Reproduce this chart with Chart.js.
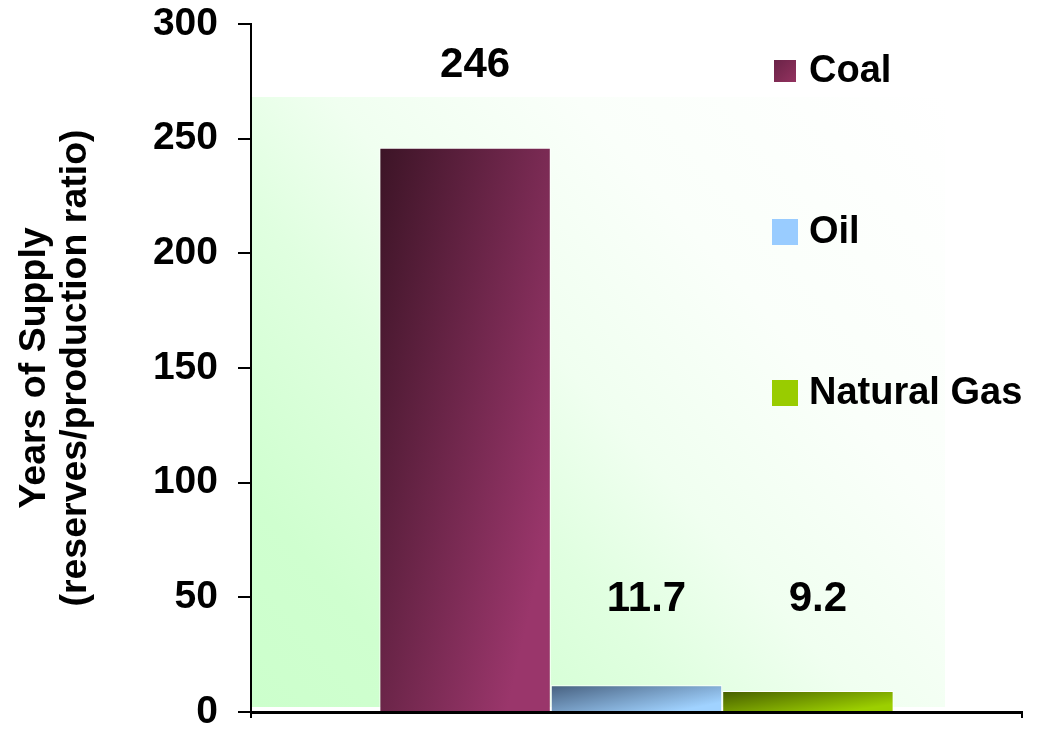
<!DOCTYPE html>
<html>
<head>
<meta charset="utf-8">
<title>Years of Supply</title>
<script src="https://cdn.jsdelivr.net/npm/chart.js@4.4.1/dist/chart.umd.min.js"></script>
<style>
    html, body { margin: 0; padding: 0; background: #fff; }
    #wrap { width: 1047px; height: 731px; }
</style>
</head>
<body>
<div id="wrap"><canvas id="supplyChart" width="1047" height="731"></canvas></div>
<script>
// Chart data
const fuels = ['Coal', 'Oil', 'Natural Gas'];
const yearsOfSupply = [246, 11.7, 9.2];
const valueLabels = ['246', '11.7', '9.2'];
const yTicks = [0, 50, 100, 150, 200, 250, 300];
const axisTitle = ['Years of Supply', '(reserves/production ratio)'];

// Styles
const FONT = "'Liberation Sans', Arial, Helvetica, sans-serif";
const darkColors = ['#3c1426', '#465f7e', '#455c00'];
const lightColors = ['#9a366b', '#a0d2ff', '#9ccf00'];
const legendColors = ['#7e2a56', '#99ccff', '#99cc00'];
const legendSizes = [22, 26, 26];

// Gradient fill for each bar, built from the bar's own box
// (dark top-left corner, light bottom-right corner)
function barFill(context) {
    const i = context.datasetIndex;
    const bar = context.chart.getDatasetMeta(i).data[context.dataIndex];
    if (!bar || bar.x === undefined || isNaN(bar.x)) return lightColors[i];
    const { x, y, base, width } = bar.getProps(['x', 'y', 'base', 'width'], true);
    const h = Math.max(Math.abs(base - y), 1);
    const left = x - width / 2;
    const ux = 0.67 / width;
    const uy = 0.5 / h;
    const len2 = ux * ux + uy * uy;
    const g = context.chart.ctx.createLinearGradient(left, y, left + ux / len2, y + uy / len2);
    g.addColorStop(0, darkColors[i]);
    g.addColorStop(1, lightColors[i]);
    return g;
}

// Pale green back wall behind the bars
const backWall = {
    id: 'backWall',
    beforeDraw(chart) {
        const { ctx, chartArea: a } = chart;
        ctx.save();
        ctx.fillStyle = '#ffffff';
        ctx.fillRect(0, 0, chart.width, chart.height);
        const left = a.left + 1;
        const right = a.right - 77;
        const top = a.top + 73;
        const bottom = a.bottom - 5;
        const g = ctx.createLinearGradient(left, bottom, right, top);
        g.addColorStop(0, '#ccffcc');
        g.addColorStop(0.15, '#cfffcf');
        g.addColorStop(0.36, '#e0ffe0');
        g.addColorStop(0.5, '#f0fff0');
        g.addColorStop(0.7, '#fafffa');
        g.addColorStop(1, '#ffffff');
        ctx.fillStyle = g;
        ctx.fillRect(left, top, right - left, bottom - top);
        ctx.restore();
    }
};

// Value labels above the bars
const valueTags = {
    id: 'valueTags',
    afterDatasetsDraw(chart) {
        const { ctx } = chart;
        const yScale = chart.scales.y;
        ctx.save();
        ctx.font = 'bold 42px ' + FONT;
        ctx.textAlign = 'center';
        ctx.textBaseline = 'middle';
        ctx.fillStyle = '#000';
        chart.data.datasets.forEach((ds, i) => {
            const bar = chart.getDatasetMeta(i).data[0];
            const y = Math.min(bar.y - 82, yScale.getPixelForValue(49));
            ctx.fillText(valueLabels[i], bar.x + 10, y);
        });
        ctx.restore();
    }
};

// Legend on the right, spread down the plot
const sideLegend = {
    id: 'sideLegend',
    afterDraw(chart) {
        const { ctx } = chart;
        ctx.save();
        ctx.font = 'bold 38px ' + FONT;
        ctx.textBaseline = 'middle';
        ctx.textAlign = 'left';
        chart.data.datasets.forEach((ds, i) => {
            const cy = 72 + i * 161;
            const s = legendSizes[i];
            const sx = 785 - s / 2;
            const sy = cy - s / 2 - 1;
            if (i === 0) {
                const g = ctx.createLinearGradient(sx, sy, sx + s, sy + s);
                g.addColorStop(0, '#6a2347');
                g.addColorStop(1, '#93325f');
                ctx.fillStyle = g;
            } else {
                ctx.fillStyle = legendColors[i];
            }
            ctx.fillRect(sx, sy, s, s);
            ctx.fillStyle = '#000';
            ctx.fillText(ds.label, 809, cy);
        });
        ctx.restore();
    }
};

const ctx = document.getElementById('supplyChart').getContext('2d');
const chart = new Chart(ctx, {
    type: 'bar',
    data: {
        labels: [''],
        datasets: fuels.map((name, i) => ({
            label: name,
            data: [yearsOfSupply[i]],
            backgroundColor: barFill,
            borderColor: '#ffffff',
            borderWidth: 1,
            categoryPercentage: 0.667,
            barPercentage: 1
        }))
    },
    options: {
        responsive: false,
        animation: false,
        layout: {
            padding: { top: 24, right: 25, bottom: 0, left: 0 }
        },
        plugins: {
            legend: { display: false },
            tooltip: { enabled: false }
        },
        scales: {
            x: {
                ticks: { display: false },
                grid: {
                    drawOnChartArea: false,
                    tickLength: 6,
                    color: '#000',
                    lineWidth: 2
                },
                border: { color: '#000', width: 3 },
                afterFit: scale => {
                    scale.height = 19;
                    scale.paddingLeft = 0;
                    scale.paddingRight = 0;
                }
            },
            y: {
                min: 0,
                max: 300,
                afterBuildTicks: scale => {
                    scale.ticks = yTicks.map(v => ({ value: v }));
                },
                ticks: {
                    color: '#000',
                    padding: 20,
                    font: { family: FONT, size: 39, weight: 'bold', lineHeight: 1 }
                },
                grid: {
                    drawOnChartArea: false,
                    tickLength: 13,
                    color: '#000',
                    lineWidth: 2
                },
                border: { color: '#000', width: 2 },
                title: {
                    display: true,
                    text: axisTitle,
                    color: '#000',
                    padding: { top: 14, bottom: 0 },
                    font: { family: FONT, size: 37.5, weight: 'bold', lineHeight: 1.1 }
                },
                afterFit: scale => {
                    scale.width = 251;
                    scale.paddingTop = 0;
                    scale.paddingBottom = 0;
                }
            }
        }
    },
    plugins: [backWall, valueTags, sideLegend]
});

// second pass so the gradients can use the laid-out bar boxes
chart.update('none');
</script>
</body>
</html>
